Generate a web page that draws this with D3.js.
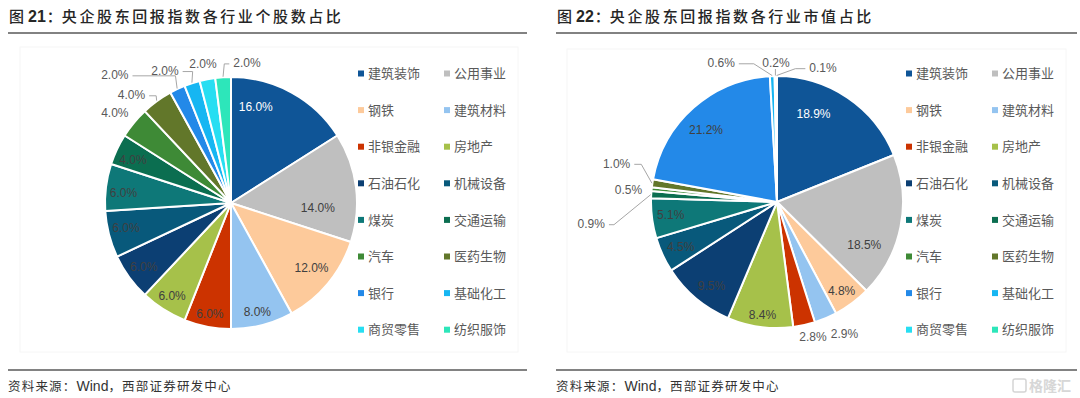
<!DOCTYPE html>
<html><head><meta charset="utf-8">
<script src="https://cdn.jsdelivr.net/npm/d3@7/dist/d3.min.js"></script>
<style>
html,body{margin:0;padding:0;background:#fff;}
svg{display:block;}
</style></head>
<body>
<svg id="chart" width="1080" height="398"></svg>
<script>
// ---- data ----
const categories = ["建筑装饰","公用事业","钢铁","建筑材料","非银金融","房地产","石油石化","机械设备","煤炭","交通运输","汽车","医药生物","银行","基础化工","商贸零售","纺织服饰"];
const countShare = [16.0,14.0,12.0,8.0,6.0,6.0,6.0,6.0,6.0,4.0,4.0,4.0,2.0,2.0,2.0,2.0];
const valueShare = [18.9,18.5,4.8,2.9,2.8,8.4,9.5,4.5,5.1,0.9,0.5,1.0,21.2,0.6,0.2,0.1];
const titles = ["图 21：央企股东回报指数各行业个股数占比","图 22：央企股东回报指数各行业市值占比"];
const sourceText = "资料来源：Wind，西部证券研发中心";

// ---- styles / layout ----
const colors = ["#0F5597","#BFBFBF","#FDCA9B","#94C4F0","#CC3300","#A6C14A","#0C3F73","#08597B","#0E7878","#0B6E50","#3E8A36","#62772A","#2389E8","#16B6F2","#27DEF2","#2DE6BA"];
// label placement (Excel "best fit"): [angle offset from slice middle (deg), distance from centre (px), leader elbow length or null]
const leftLabelLayout = [[-14.3,99,null],[10.5,87,null],[-1,103,null],[0.8,112,null],[0,113,null],[0,110,null],[0,108,null],[1,108,null],[-1.7,108,null],[-1.6,107,null],[-1.8,147,null],[-6.6,147,7],[-17,173,43],[-8.5,148,10],[-0.6,142,null],[10.1,141,5]];
const rightLabelLayout = [[-11.7,96,null],[14.5,97,null],[0.6,110,null],[-4.4,148,null],[-2.6,139,null],[-0.4,114,null],[-1.8,106,null],[0,106,null],[0.7,107,null],[-10,187,5],[-1,149,null],[5,165,7],[-3.2,101,null],[-19.7,150,15],[0.3,139,0],[19.1,142,10]];

const svg = d3.select("#chart");
const R = 126;

function drawHeader(x0, x1, title){
  const t = svg.append("text").attr("x", x0+1).attr("y", 22)
    .attr("fill","#262626").style("font-family","'Noto Sans CJK SC',sans-serif")
    .style("font-size","15px").style("font-weight","500");
  const parts = title.match(/^(图)\s(\d+)(：)(.*)$/);
  t.append("tspan").text(parts[1]);
  t.append("tspan").attr("dx",4).style("font-family","'Liberation Sans',Arial,sans-serif").style("font-weight","bold").style("font-size","16px").text(parts[2]);
  t.append("tspan").attr("dx",1).text(parts[3]);
  t.append("tspan").style("letter-spacing","2.6px").text(parts[4]);
  svg.append("line").attr("x1",x0).attr("x2",x1).attr("y1",33).attr("y2",33).attr("stroke","#595959").attr("stroke-width",1.5);
  svg.append("line").attr("x1",x0).attr("x2",x1).attr("y1",370).attr("y2",370).attr("stroke","#595959").attr("stroke-width",1.5);
  const f = svg.append("text").attr("x", x0).attr("y", 391).attr("fill","#333")
    .style("font-family","'Noto Sans CJK SC',sans-serif").style("font-size","12.5px").style("letter-spacing","1.2px");
  const sp = sourceText.split("Wind");
  f.append("tspan").text(sp[0]);
  f.append("tspan").style("font-family","'Liberation Sans',Arial,sans-serif").style("font-size","14px").style("letter-spacing","0px").text("Wind");
  f.append("tspan").text(sp[1]);
}

function drawPie(cx, cy, values, layout, legendX, frame){
  svg.append("rect").attr("x",frame[0]).attr("y",frame[1]).attr("width",frame[2]).attr("height",frame[3])
    .attr("fill","none").attr("stroke","#f6f6f6").attr("stroke-width",1);
  const pie = d3.pie().sort(null).value(d=>d.v).startAngle(0).endAngle(2*Math.PI);
  const data = pie(values.map((v,i)=>({v, i, name: categories[i]})));
  const arc = d3.arc().innerRadius(0).outerRadius(R);
  const g = svg.append("g").attr("transform",`translate(${cx},${cy})`);
  g.selectAll("path.slice").data(data).join("path").attr("class","slice")
    .attr("d", arc).attr("fill", d=>colors[d.data.i])
    .attr("stroke","#fff").attr("stroke-width",2).attr("stroke-linejoin","round");

  const pol = (a, r)=>[r*Math.sin(a), -r*Math.cos(a)];
  const lbl = g.append("g");
  data.forEach(d=>{
    const L = layout[d.data.i];
    const mid = (d.startAngle + d.endAngle)/2;
    const a = mid + L[0]*Math.PI/180;
    const [lx, ly] = pol(a, L[1]);
    const t = lbl.append("text").attr("x",lx).attr("y",ly).attr("dy","0.36em")
      .attr("text-anchor","middle")
      .attr("fill", d.data.i===0 ? "#ffffff" : (L[1] > R ? "#595959" : "#404040"))
      .style("font-family","'Liberation Sans',Arial,sans-serif").style("font-size","12px")
      .text(d3.format(".1f")(d.data.v)+"%");
    if (L[2] !== null){
      const w = t.node().getComputedTextLength();
      const [px, py] = pol(mid, R+0.5);
      let pts;
      if (L[2] === 0){
        pts = [[px, ly+6],[px, py]];
      } else if (px > lx){
        const sx = lx + w/2 + 4;
        pts = [[sx, ly+1],[sx+L[2], ly+1],[px, py]];
      } else {
        const sx = lx - w/2 - 4;
        pts = [[sx, ly+1],[sx-L[2], ly+1],[px, py]];
      }
      lbl.append("path").attr("d", d3.line()(pts)).attr("fill","none").attr("stroke","#A6A6A6").attr("stroke-width",1);
    }
  });

  // legend
  const lg = svg.append("g");
  categories.forEach((c,i)=>{
    const col = i%2, row = Math.floor(i/2);
    const x = legendX + col*86, y = 73.5 + row*36.6;
    lg.append("rect").attr("x",x).attr("y",y-3).attr("width",6).attr("height",6).attr("fill",colors[i]);
    lg.append("text").attr("x",x+10).attr("y",y).attr("dy","0.36em").attr("fill","#595959")
      .style("font-family","'Noto Sans CJK SC',sans-serif").style("font-size","13px").text(c);
  });
}

drawHeader(8, 527, titles[0]);
drawHeader(556, 1077, titles[1]);
drawPie(231, 203, countShare, leftLabelLayout, 358, [20,47,498,305]);
drawPie(777, 202, valueShare, rightLabelLayout, 906, [567,49,499,303]);

// watermark
const wm = svg.append("g").attr("opacity",0.9);
wm.append("rect").attr("x",1013).attr("y",379).attr("width",13).attr("height",13).attr("rx",2).attr("fill","none").attr("stroke","#d0d0d0").attr("stroke-width",1.5);
wm.append("text").attr("x",1029).attr("y",391).attr("fill","#d3d3d3")
  .style("font-family","'Noto Sans CJK SC',sans-serif").style("font-size","14px").style("font-weight","bold").text("格隆汇");
</script>
</body></html>
